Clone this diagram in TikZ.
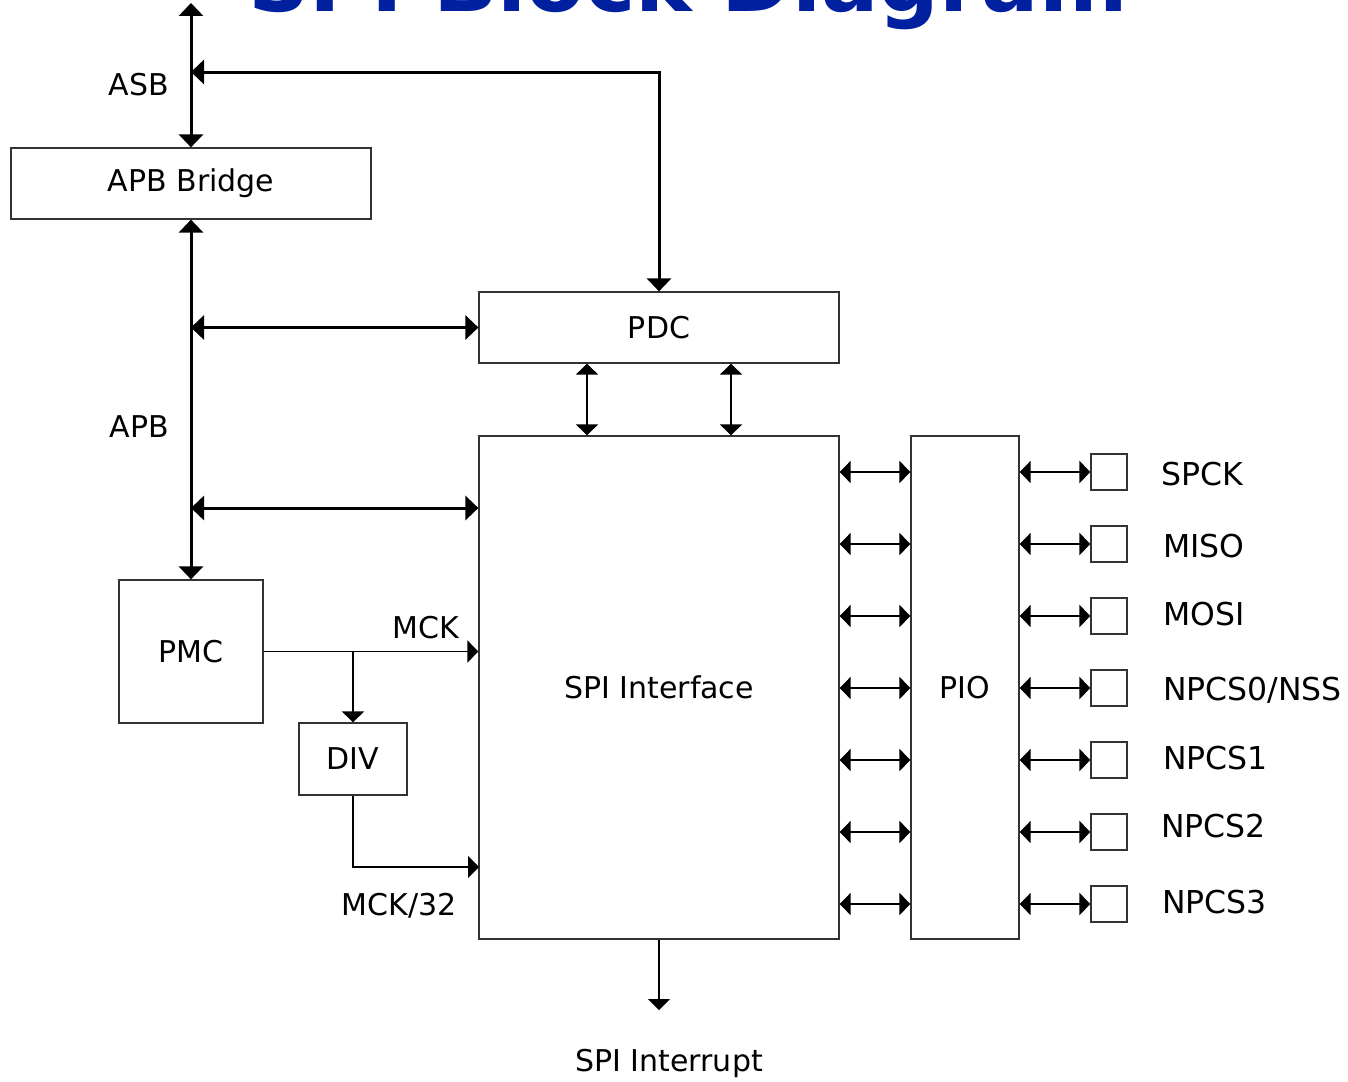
\documentclass[tikz,border=0pt]{standalone}
\usepackage{fontspec}
\setmainfont{DejaVu Sans}
\usepackage{tikz}
\usetikzlibrary{positioning,arrows.meta}
\usepackage{xcolor}
\definecolor{titleblue}{RGB}{0,32,160}

\begin{document}
\begin{tikzpicture}[x=1pt,y=-1pt,
        blk/.style={draw=black!80,line width=1.2pt,inner sep=0pt,font=\fontsize{30}{36}\selectfont},
        pin/.style={draw=black!80,line width=1.2pt,inner sep=0pt,minimum size=36pt},
        lbl/.style={inner sep=0pt,font=\fontsize{30}{36}\selectfont},
        pinlbl/.style={inner sep=0pt,anchor=west,font=\fontsize{31.5}{36}\selectfont},
        bus/.style={line width=3pt,{Triangle[length=13pt,width=24pt]}-{Triangle[length=13pt,width=24pt]}},
        link/.style={line width=1.5pt,{Triangle[length=11pt,width=22pt]}-{Triangle[length=11pt,width=22pt]}},
        feed/.style={line width=1.5pt,-{Triangle[length=11pt,width=22pt]}}]
        \clip (0,0) rectangle (1348,1081);
        \useasboundingbox (0,0) rectangle (1348,1081);
        \node[anchor=base,text=titleblue,font=\fontsize{85}{90}\selectfont\bfseries] (title) at (688,12) {SPI Block Diagram};

        % blocks
        \node[blk,minimum width=360pt,minimum height=71pt] (bridge) at (191,183.5) {APB Bridge};
        \node[blk,minimum width=360pt,minimum height=71pt] (pdc) at (659,327.5) {PDC};
        \node[blk,minimum width=360pt,minimum height=503pt] (spi) at (659,687.5) {SPI Interface};
        \node[blk,minimum width=108pt,minimum height=503pt] (pio) at (965,687.5) {PIO};
        \node[blk,minimum width=144pt,minimum height=143pt] (pmc) at (191,651.5) {PMC};
        \node[blk,minimum width=108pt,minimum height=72pt] (div) at (353,759) {DIV};

        % pins
        \node[pin] (spck) at (1109,472) {};
        \node[pin] (miso) at (1109,544) {};
        \node[pin] (mosi) at (1109,616) {};
        \node[pin] (nss) at (1109,688) {};
        \node[pin] (npcsa) at (1109,760) {};
        \node[pin] (npcsb) at (1109,832) {};
        \node[pin] (npcsc) at (1109,904) {};
        \node[pinlbl] (spcktext) at (1161,474) {SPCK};
        \node[pinlbl] (misotext) at (1163,546) {MISO};
        \node[pinlbl] (mositext) at (1163,614) {MOSI};
        \node[pinlbl] (nsstext) at (1163,690) {NPCS0/NSS};
        \node[pinlbl] (npcsatext) at (1163,758) {NPCS1};
        \node[pinlbl] (npcsbtext) at (1161,826) {NPCS2};
        \node[pinlbl] (npcsctext) at (1162,902) {NPCS3};

        % labels
        \node[lbl,anchor=east] (asb) at (169,85) {ASB};
        \node[lbl,anchor=east] (apb) at (169,427) {APB};
        \node[lbl] (mck) at (426,628) {MCK};
        \node[lbl] (mckdiv) at (399,906) {MCK/32};
        \node[lbl] (irqtext) at (669,1063) {SPI Interrupt};

        % buses
        \coordinate (asbtop) at (191,3);
        \coordinate (asbjoin) at (191,72);
        \coordinate (apbpdc) at (191,327.5);
        \coordinate (apbspi) at (191,508);
        \draw[bus] (asbtop) -- (bridge.north);
        \draw[bus] (asbjoin) -| (pdc.north);
        \draw[bus] (bridge.south) -- (pmc.north);
        \draw[bus] (apbpdc) -- (pdc.west);
        \draw[bus] (apbspi) -- (apbspi -| spi.west);

        % pdc to spi
        \draw[link] ([xshift=-72pt]pdc.south) -- ([xshift=-72pt]spi.north);
        \draw[link] ([xshift=72pt]pdc.south) -- ([xshift=72pt]spi.north);

        % clocks
        \coordinate (mcksplit) at (353,651.5);
        \coordinate (mckslow) at (479,867);
        \coordinate (irq) at (659,1010);
        \draw[feed] (pmc.east) -- (pmc.east -| spi.west);
        \draw[feed] (mcksplit) -- (div.north);
        \draw[feed] (div.south) |- (mckslow);
        \draw[feed] (spi.south) -- (irq);

        % spi to pio to pins
        \draw[link] (spi.east |- spck) -- (pio.west |- spck);
        \draw[link] (spi.east |- miso) -- (pio.west |- miso);
        \draw[link] (spi.east |- mosi) -- (pio.west |- mosi);
        \draw[link] (spi.east |- nss) -- (pio.west |- nss);
        \draw[link] (spi.east |- npcsa) -- (pio.west |- npcsa);
        \draw[link] (spi.east |- npcsb) -- (pio.west |- npcsb);
        \draw[link] (spi.east |- npcsc) -- (pio.west |- npcsc);
        \draw[link] (pio.east |- spck) -- (spck.west);
        \draw[link] (pio.east |- miso) -- (miso.west);
        \draw[link] (pio.east |- mosi) -- (mosi.west);
        \draw[link] (pio.east |- nss) -- (nss.west);
        \draw[link] (pio.east |- npcsa) -- (npcsa.west);
        \draw[link] (pio.east |- npcsb) -- (npcsb.west);
        \draw[link] (pio.east |- npcsc) -- (npcsc.west);
      \end{tikzpicture}
\end{document}
